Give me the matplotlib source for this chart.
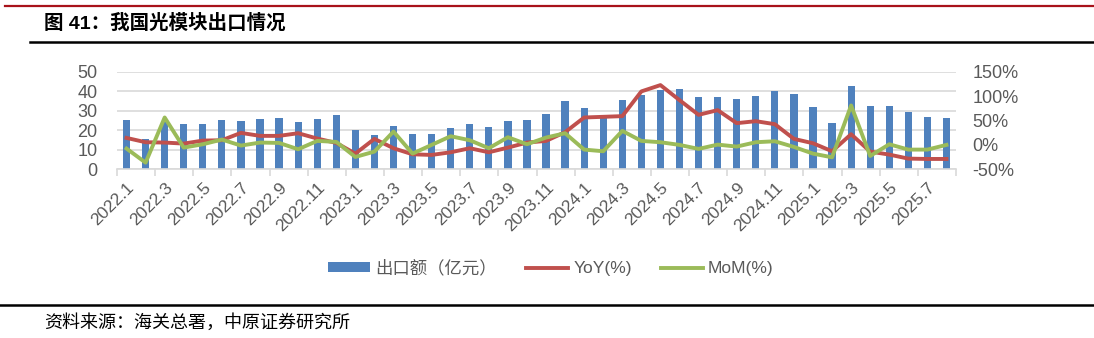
import matplotlib
matplotlib.use("Agg")
import matplotlib.pyplot as plt
from matplotlib.lines import Line2D
from matplotlib.patches import Patch

plt.rcParams['font.family'] = ['Liberation Sans', 'Noto Sans CJK SC', 'DejaVu Sans']

# months 2022.1 .. 2025.8
months = [f"{y}.{m}" for y in range(2022, 2026) for m in range(1, 13)][:44]

# export value (100 million yuan)
export_value = [25.1, 15.6, 24.0, 23.0, 23.0, 25.3, 24.7, 25.8, 26.5, 24.2, 25.9, 27.8,
                20.3, 17.5, 22.3, 18.2, 18.2, 21.3, 23.2, 21.8, 24.9, 25.3, 28.4, 34.9,
                31.6, 26.3, 35.5, 38.4, 40.7, 41.0, 37.2, 37.1, 35.9, 37.4, 40.3, 38.8,
                32.1, 23.6, 42.8, 32.6, 32.4, 29.3, 26.6, 26.2]

# year-on-year (%)
yoy = [14.1, 5.2, 4.5, 2.4, 8.6, 9.3, 24.5, 18.3, 18.3, 23.8, 12.8, 3.8,
       -18.3, 12.1, -7.2, -19.7, -21.0, -15.5, -7.2, -15.5, -5.9, 4.5, 7.9, 25.9,
       56.2, 57.6, 59.0, 110.0, 123.0, 92.0, 61.7, 71.4, 44.5, 48.6, 42.4, 12.1,
       3.1, -13.4, 21.7, -14.1, -20.3, -28.6, -29.3, -29.3]

# month-on-month (%)
mom = [-7.9, -36.9, 56.2, -5.9, 1.0, 10.7, -1.7, 4.5, 3.8, -9.3, 7.9, 5.9,
       -25.2, -14.1, 27.2, -18.3, -0.3, 17.6, 9.3, -7.2, 15.5, 1.0, 14.8, 23.8,
       -10.0, -13.4, 28.6, 7.9, 5.2, -0.3, -8.6, 0.3, -3.8, 5.2, 7.2, -4.5,
       -18.3, -25.9, 81.0, -23.1, 1.0, -10.0, -10.0, -0.3]

blue = '#4F81BD'
red = '#C0504D'
green = '#9BBB59'
gray = '#595959'
grid = '#D9D9D9'

W, H = 1094, 338
fig = plt.figure(figsize=(W / 100, H / 100), dpi=100)

# header / footer rules
fig.add_artist(Line2D([5 / W, 1], [1 - 6 / H, 1 - 6 / H], color='#A8121A', lw=1.6))
fig.add_artist(Line2D([30 / W, 1], [1 - 42 / H, 1 - 42 / H], color='black', lw=1.8))
fig.add_artist(Line2D([0, 1], [1 - 305 / H, 1 - 305 / H], color='black', lw=1.8))
fig.text(44 / W, 1 - 23 / H, '图 41：我国光模块出口情况', fontsize=14, fontweight='bold',
         va='center', ha='left')
fig.text(44 / W, 1 - 323 / H, '资料来源：海关总署，中原证券研究所', fontsize=13,
         va='center', ha='left')

ax = fig.add_axes([117 / W, 1 - 169 / H, (956 - 117) / W, (169 - 72) / H])
x = list(range(len(months)))
ax.bar(x, export_value, width=0.38, color=blue, zorder=2)
ax.set_xlim(-0.5, len(months) - 0.5)
ax.set_ylim(0, 50)
ax.set_yticks(range(0, 51, 10))
ax.grid(axis='y', color=grid, lw=1.2, zorder=0)
ax.set_axisbelow(True)
for s in ['top', 'right', 'left']:
    ax.spines[s].set_visible(False)
ax.spines['bottom'].set_color(grid)
ax.spines['bottom'].set_linewidth(1.2)
ax.tick_params(axis='y', length=0, pad=14, labelsize=13, labelcolor=gray)
ax.set_xticks(x[::2])
ax.set_xticklabels(months[::2], rotation=45, ha='right', va='top',
                   rotation_mode='anchor', fontsize=12.5, color=gray)
ax.tick_params(axis='x', which='major', length=0, pad=8)
ax.set_xticks([i - 0.5 for i in x[::2]] + [len(months) - 0.5], minor=True)
ax.tick_params(axis='x', which='minor', length=5, color=grid, width=1.2)

ax2 = ax.twinx()
ax2.plot(x, yoy, color=red, lw=2.8, zorder=3)
ax2.plot(x, mom, color=green, lw=2.8, zorder=4)
ax2.set_ylim(-50, 150)
ax2.set_yticks([-50, 0, 50, 100, 150])
ax2.set_yticklabels(['-50%', '0%', '50%', '100%', '150%'])
for s in ['top', 'right', 'left', 'bottom']:
    ax2.spines[s].set_visible(False)
ax2.tick_params(axis='y', length=0, pad=12, labelsize=13, labelcolor=gray)

handles = [Patch(facecolor=blue), Line2D([], [], color=red, lw=2.8),
           Line2D([], [], color=green, lw=2.8)]
labels = ['出口额（亿元）', 'YoY(%)', 'MoM(%)']
leg = fig.legend(handles, labels, loc='center', bbox_to_anchor=(551 / W, 1 - 268 / H),
                 ncol=3, frameon=False, fontsize=12.5, handlelength=2.4,
                 handleheight=0.5, handletextpad=0.3, columnspacing=1.7)
for t in leg.get_texts():
    t.set_color(gray)

fig.savefig('out.png', dpi=100)
